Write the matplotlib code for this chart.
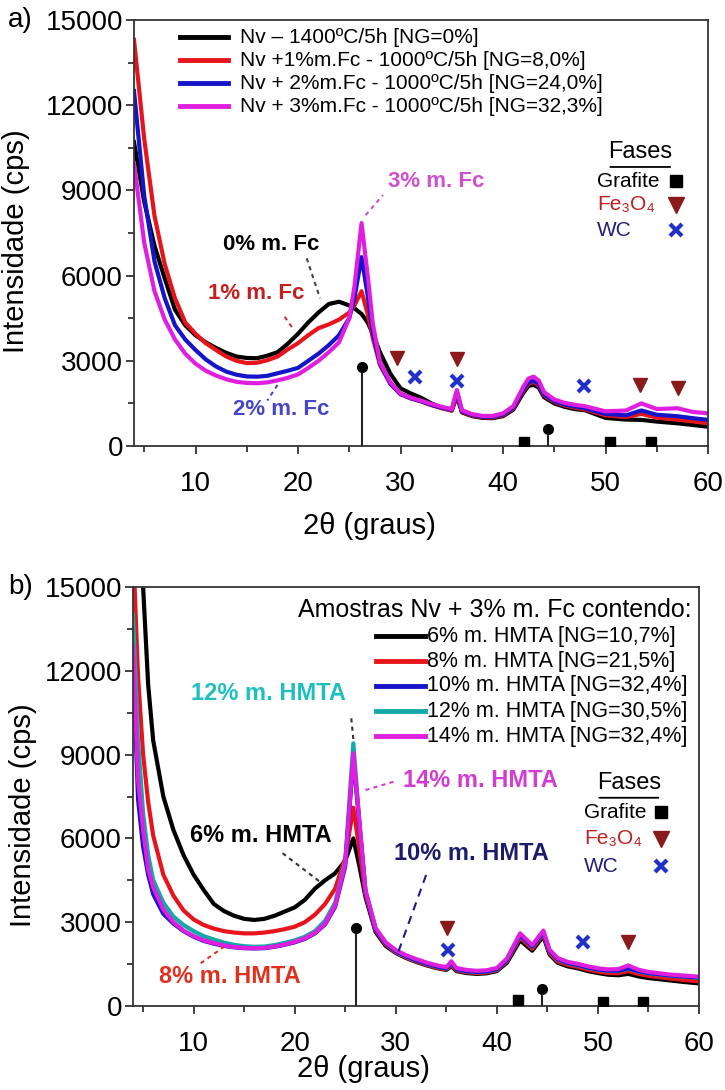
import matplotlib
matplotlib.use("Agg")
import matplotlib.pyplot as plt
from matplotlib.ticker import MultipleLocator

plt.rcParams['font.family'] = ['Liberation Sans', 'DejaVu Sans']

# ---- a) difratogramas com teor de Fc ----
two_theta_a = [4, 5, 6, 7, 8, 9, 10, 11, 12, 13, 14, 15, 16, 17, 18, 19, 20, 21, 22, 23, 24, 25,
               25.5, 26.2, 26.8, 27.3, 28, 29, 30, 31, 32, 33, 34, 35, 35.5, 36, 37, 38, 39, 40, 41, 42,
               42.5, 43, 43.5, 44, 45, 46, 47, 48, 50, 52, 53.5, 55, 57, 58.5, 60]
fc0 = [10700, 8600, 7050, 5900, 4800, 4250, 3900, 3650, 3450, 3280, 3150, 3100, 3090, 3180, 3300, 3600,
       3950, 4350, 4700, 5000, 5080, 4950,
       4850, 4650, 4350, 3950, 3300, 2550, 2030, 1850, 1700, 1500, 1350, 1250, 1750, 1180, 1050, 990, 980,
       1050, 1280, 1880, 2120, 2150, 2050, 1720, 1500, 1380, 1300, 1260, 990, 930, 920, 860, 800, 740, 680]
fc1 = [14300, 10800, 8100, 6400, 5200, 4350, 3950, 3620, 3380, 3150, 3000, 2920, 2930, 3020, 3150, 3400,
       3620, 3900, 4150, 4280, 4450, 4700,
       4950, 5450, 4650, 3800, 2850, 2200, 1820, 1680, 1570, 1440, 1330, 1250, 1850, 1200, 1070, 1010, 1000,
       1080, 1320, 1950, 2200, 2250, 2130, 1780, 1550, 1430, 1350, 1290, 1080, 1020, 1130, 1000, 930, 870, 800]
fc2 = [12500, 8800, 6500, 5200, 4250, 3750, 3380, 3050, 2800, 2620, 2510, 2450, 2440, 2470, 2560, 2650,
       2750, 3000, 3250, 3550, 3900, 4500,
       5200, 6650, 5300, 4000, 2900, 2200, 1830, 1680, 1580, 1450, 1350, 1280, 1900, 1230, 1090, 1030, 1030,
       1110, 1350, 2000, 2250, 2300, 2180, 1820, 1580, 1460, 1390, 1330, 1130, 1080, 1250, 1100, 1050, 980, 920]
fc3 = [9950, 7150, 5450, 4450, 3750, 3250, 2900, 2650, 2480, 2350, 2260, 2220, 2210, 2240, 2310, 2400,
       2520, 2750, 3000, 3300, 3650, 4500,
       5600, 7850, 6000, 4300, 2950, 2250, 1850, 1700, 1600, 1480, 1380, 1300, 1970, 1260, 1120, 1060, 1060,
       1150, 1400, 2100, 2380, 2440, 2300, 1900, 1640, 1520, 1450, 1400, 1220, 1250, 1500, 1300, 1330, 1200, 1150]
labels_a = ["Nv \u2013 1400ºC/5h [NG=0%]", "Nv +1%m.Fc - 1000ºC/5h [NG=8,0%]",
            "Nv + 2%m.Fc - 1000ºC/5h [NG=24,0%]", "Nv + 3%m.Fc - 1000ºC/5h [NG=32,3%]"]

grafite_pos_a = [26.2, 42.0, 44.4, 50.4, 54.4]
grafite_int_a = [2790, 150, 590, 130, 130]
fe3o4_pos_a = [29.7, 35.5, 53.4, 57.1]
fe3o4_int_a = [3090, 3050, 2150, 2030]
wc_pos_a = [31.4, 35.5, 47.9]
wc_int_a = [2420, 2300, 2110]

# ---- b) amostras com HMTA ----
two_theta_b = [4, 4.5, 5, 5.5, 6, 7, 8, 9, 10, 11, 12, 13, 14, 15, 16, 17, 18, 19, 20, 21, 22, 23, 24, 25,
               25.8, 26.4, 27, 28, 29, 30, 31, 32, 33, 34, 35, 35.5, 36, 37, 38, 39, 40, 41,
               42.3, 43.5, 44.6, 45.2, 46, 47, 48, 49, 50, 51, 52, 53, 54, 55, 57, 58.5, 60]
hmta6 = [19500, 17000, 15000, 11500, 9500, 7500, 6300, 5400, 4700, 4150, 3650, 3400, 3230, 3120, 3080,
         3120, 3230, 3380, 3530, 3800, 4200, 4500, 4750, 5200, 6000, 5000, 3900, 2650, 2150, 1900, 1720,
         1580, 1460, 1360, 1290, 1420, 1250, 1180, 1150, 1170, 1250, 1550, 2350, 1980, 2500, 1850, 1550,
         1420, 1350, 1250, 1180, 1120, 1100, 1150, 1060, 1000, 920, 860, 810]
hmta8 = [16500, 11800, 9000, 7300, 6100, 4700, 3950, 3420, 3100, 2900, 2770, 2680, 2630, 2600, 2600,
         2630, 2680, 2750, 2840, 3000, 3270, 3650, 4200, 5300, 7100, 5600, 4000, 2700, 2200, 1920, 1740,
         1600, 1480, 1380, 1310, 1470, 1280, 1210, 1180, 1200, 1280, 1600, 2450, 2050, 2580, 1900, 1600,
         1470, 1400, 1300, 1230, 1180, 1170, 1250, 1150, 1080, 990, 930, 880]
hmta10 = [12300, 7400, 5700, 4700, 4000, 3300, 2950, 2680, 2480, 2330, 2230, 2150, 2100, 2070, 2060,
          2070, 2120, 2190, 2280, 2400, 2600, 2920, 3550, 5000, 8900, 6500, 4100, 2750, 2250, 1960, 1780,
          1640, 1520, 1420, 1350, 1550, 1320, 1250, 1220, 1240, 1320, 1650, 2550, 2130, 2650, 1980, 1680,
          1540, 1470, 1380, 1310, 1270, 1260, 1350, 1250, 1180, 1100, 1060, 1020]
hmta12 = [14000, 9500, 6900, 5400, 4510, 3700, 3200, 2900, 2680, 2500, 2380, 2270, 2190, 2140, 2120,
          2130, 2180, 2260, 2350, 2480, 2680, 3050, 3700, 5200, 9400, 6600, 4100, 2750, 2250, 1950, 1770,
          1630, 1510, 1410, 1340, 1540, 1310, 1240, 1210, 1230, 1310, 1640, 2530, 2120, 2640, 1970, 1670,
          1530, 1460, 1370, 1300, 1260, 1250, 1340, 1240, 1170, 1090, 1050, 1010]
hmta14 = [12860, 8100, 6300, 4900, 4250, 3450, 3000, 2700, 2500, 2350, 2250, 2170, 2110, 2080, 2070,
          2080, 2130, 2200, 2300, 2420, 2620, 2950, 3600, 5100, 9050, 6600, 4150, 2800, 2280, 2000, 1820,
          1680, 1560, 1460, 1390, 1600, 1360, 1290, 1260, 1280, 1360, 1700, 2600, 2180, 2700, 2020, 1720,
          1580, 1510, 1420, 1350, 1310, 1320, 1450, 1300, 1220, 1130, 1090, 1050]
labels_b = ["6% m. HMTA [NG=10,7%]", "8% m. HMTA [NG=21,5%]", "10% m. HMTA [NG=32,4%]",
            "12% m. HMTA [NG=30,5%]", "14% m. HMTA [NG=32,4%]"]

grafite_pos_b = [26.1, 42.1, 44.5, 50.5, 54.5]
grafite_int_b = [2780, 215, 600, 150, 150]
fe3o4_pos_b = [35.1, 53.0]
fe3o4_int_b = [2780, 2300]
wc_pos_b = [35.2, 48.5]
wc_int_b = [2000, 2300]

BLACK = '#000000'
RED = '#e8141c'
BLUE = '#1414c8'
MAGENTA = '#e01ee0'
TEAL = '#14a8a8'
FE_COLOR = '#8b1a1a'
WC_COLOR = '#2030c8'


def style_axes(ax):
    ax.set_xlim(4, 60)
    ax.set_ylim(0, 15000)
    ax.xaxis.set_major_locator(MultipleLocator(10))
    ax.xaxis.set_minor_locator(MultipleLocator(5))
    ax.yaxis.set_major_locator(MultipleLocator(3000))
    ax.yaxis.set_minor_locator(MultipleLocator(1500))
    ax.tick_params(axis='both', which='both', direction='out', colors='#333333',
                   labelcolor='black', labelsize=20, width=1.3)
    ax.tick_params(axis='both', which='major', length=6)
    ax.tick_params(axis='both', which='minor', length=4)
    ax.tick_params(axis='x', pad=12)
    ax.tick_params(axis='y', pad=2)
    for s in ax.spines.values():
        s.set_color('#333333')
        s.set_linewidth(1.3)
    ax.set_xlabel("2θ (graus)", fontsize=21)
    ax.set_ylabel("Intensidade (cps)", fontsize=21)


def draw_phases(ax, gx, gy, fx, fy, wx, wy):
    ax.vlines(gx, 0, gy, color='#222222', lw=1.5, zorder=5)
    for x, y in zip(gx, gy):
        ax.plot(x, y, 'o' if y > 500 else 's', color='black', ms=7, zorder=6)
    ax.plot(fx, fy, 'v', color=FE_COLOR, ms=10, ls='none', zorder=6)
    ax.plot(wx, wy, 'x', color=WC_COLOR, ms=8, mew=3, ls='none', zorder=6)


def phase_key(ax, x_text, x_mark, y_title, y_rows, x_title):
    ax.text(x_title, y_title, "Fases", transform=ax.transAxes, fontsize=17,
            ha='center', va='center')
    ax.annotate("", xy=(x_title - 0.057, y_title - 0.035), xytext=(x_title + 0.057, y_title - 0.035),
                xycoords='axes fraction', arrowprops=dict(arrowstyle='-', color='black', lw=1.3))
    ax.text(x_text, y_rows[0], "Grafite", transform=ax.transAxes, fontsize=15, va='center')
    ax.text(x_text, y_rows[1], "Fe₃O₄", transform=ax.transAxes, fontsize=15, va='center',
            color='#c02020')
    ax.text(x_text, y_rows[2], "WC", transform=ax.transAxes, fontsize=15, va='center',
            color='#20207a')
    ax.plot(x_mark, y_rows[0], 's', color='black', ms=8, transform=ax.transAxes)
    ax.plot(x_mark, y_rows[1], 'v', color=FE_COLOR, ms=11, transform=ax.transAxes)
    ax.plot(x_mark, y_rows[2], 'x', color=WC_COLOR, ms=8, mew=3, transform=ax.transAxes)


fig = plt.figure(figsize=(7.25, 10.9), dpi=100)

# painel a
ax1 = fig.add_axes([134 / 725, 1 - 446 / 1090, 574 / 725, 426 / 1090])
for y, c in zip([fc0, fc1, fc2, fc3], [BLACK, RED, BLUE, MAGENTA]):
    ax1.plot(two_theta_a, y, color=c, lw=3, solid_joinstyle='round')
draw_phases(ax1, grafite_pos_a, grafite_int_a, fe3o4_pos_a, fe3o4_int_a, wc_pos_a, wc_int_a)
style_axes(ax1)
ax1.yaxis.set_label_coords(-0.181, 0.48)
ax1.xaxis.set_label_coords(0.411, -0.155)

rows_a = [0.960, 0.906, 0.852, 0.798]
for lab, c, yr in zip(labels_a, [BLACK, RED, BLUE, MAGENTA], rows_a):
    ax1.plot([0.080, 0.164], [yr, yr], color=c, lw=3.5, transform=ax1.transAxes)
    ax1.text(0.185, yr, lab, transform=ax1.transAxes, fontsize=15, va='center')

phase_key(ax1, 0.807, 0.944, 0.690, [0.622, 0.566, 0.507], 0.882)

ann = dict(fontsize=16, fontweight='bold', ha='center', va='center')
ax1.text(17.4, 7080, "0% m. Fc", color='black', **ann)
ax1.plot([20.85, 22.15], [6610, 5200], ls=(0, (2, 2)), color='#444444', lw=1.5)
ax1.text(15.9, 5380, "1% m. Fc", color='#c42020', **ann)
ax1.plot([18.7, 19.5], [4550, 4140], ls=(0, (2, 2)), color='#d03030', lw=1.5)
ax1.text(18.4, 1270, "2% m. Fc", color='#4646c8', **ann)
ax1.plot([18.0, 17.0], [2150, 1600], ls=(0, (2, 2)), color='#4646c8', lw=1.5)
ax1.text(33.5, 9330, "3% m. Fc", color='#d050d0', **ann)
ax1.plot([26.6, 28.3], [8130, 8840], ls=(0, (2, 2)), color='#d050d0', lw=1.5)

fig.text(8 / 725, 1 - 20 / 1090, "a)", fontsize=20, va='center', ha='left')

# painel b
ax2 = fig.add_axes([133 / 725, 1 - 1006 / 1090, 566 / 725, 419 / 1090])
for y, c in zip([hmta6, hmta8, hmta12, hmta10, hmta14], [BLACK, RED, TEAL, BLUE, MAGENTA]):
    ax2.plot(two_theta_b, y, color=c, lw=3, solid_joinstyle='round')
draw_phases(ax2, grafite_pos_b, grafite_int_b, fe3o4_pos_b, fe3o4_int_b, wc_pos_b, wc_int_b)
style_axes(ax2)
ax2.yaxis.set_label_coords(-0.170, 0.456)
ax2.xaxis.set_label_coords(0.408, -0.118)

ax2.text(0.987, 0.945, "Amostras Nv + 3% m. Fc contendo:", transform=ax2.transAxes,
         fontsize=18, ha='right', va='center')
rows_b = [0.883, 0.823, 0.764, 0.704, 0.644]
for lab, c, yr in zip(labels_b, [BLACK, RED, BLUE, TEAL, MAGENTA], rows_b):
    ax2.plot([0.429, 0.516], [yr, yr], color=c, lw=3.5, transform=ax2.transAxes)
    ax2.text(0.519, yr, lab, transform=ax2.transAxes, fontsize=15.5, va='center')

phase_key(ax2, 0.797, 0.933, 0.532, [0.463, 0.399, 0.334], 0.876)

ann_b = dict(fontsize=17, fontweight='bold', va='center')
ax2.text(17.4, 11200, "12% m. HMTA", color='#1fbfbf', ha='center', **ann_b)
ax2.plot([25.6, 25.8], [10300, 9550], ls=(0, (2, 2)), color='#333333', lw=1.5)
ax2.text(30.7, 8090, "14% m. HMTA", color='#d23cd2', ha='left', **ann_b)
ax2.plot([27.0, 29.8], [7730, 8030], ls=(0, (2, 2)), color='#d23cd2', lw=1.5)
ax2.text(9.6, 6120, "6% m. HMTA", color='black', ha='left', **ann_b)
ax2.plot([18.8, 22.7], [5470, 4390], ls=(0, (2, 2)), color='#333333', lw=1.5)
ax2.text(29.8, 5470, "10% m. HMTA", color='#1c1c6c', ha='left', **ann_b)
ax2.plot([33.0, 30.2], [4690, 1890], ls=(0, (4, 3)), color='#1c1c8c', lw=1.5)
ax2.text(6.6, 1050, "8% m. HMTA", color='#e0301e', ha='left', **ann_b)
ax2.plot([10.7, 13.0], [1530, 2120], ls=(0, (2, 2)), color='#e0301e', lw=1.5)

fig.text(8 / 725, 1 - 587 / 1090, "b)", fontsize=20, va='center', ha='left')

fig.savefig("out.png", dpi=100)
